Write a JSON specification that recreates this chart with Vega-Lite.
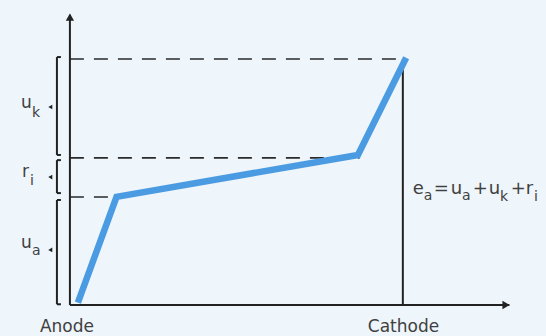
{
  "$schema": "https://vega.github.io/schema/vega-lite/v6.json",
  "width": 546,
  "height": 336,
  "padding": 0,
  "autosize": {"type": "fit", "contains": "padding"},
  "background": "#eef5fb",
  "config": {"view": {"stroke": null}},
  "encoding": {
    "x": {"field": "x", "type": "quantitative", "scale": {"domain": [-21, 143], "nice": false, "zero": false}, "axis": null},
    "y": {"field": "y", "type": "quantitative", "scale": {"domain": [-12.6, 124], "nice": false, "zero": false}, "axis": null}
  },
  "layer": [
    {
      "data": {"values": [
        {"x": 0, "x2": 100, "y": 100},
        {"x": 0, "x2": 87, "y": 59.8},
        {"x": 0, "x2": 13.5, "y": 43.9}
      ]},
      "mark": {"type": "rule", "color": "#2a2a2a", "strokeWidth": 1.6, "strokeDash": [14, 10]},
      "encoding": {"x2": {"field": "x2"}}
    },
    {
      "data": {"values": [
        {"x": 0, "x2": 0, "y": 0, "y2": 118},
        {"x": 0, "x2": 132, "y": 0, "y2": 0},
        {"x": 100, "x2": 100, "y": 0, "y2": 100},
        {"x": -3.9, "x2": -3.9, "y": 0.3, "y2": 42.7},
        {"x": -3.9, "x2": -3.9, "y": 45.5, "y2": 58.9},
        {"x": -3.9, "x2": -3.9, "y": 61, "y2": 100.8},
        {"x": -3.9, "x2": -2.7, "y": 0.3, "y2": 0.3},
        {"x": -3.9, "x2": -2.7, "y": 42.7, "y2": 42.7},
        {"x": -3.9, "x2": -2.7, "y": 45.5, "y2": 45.5},
        {"x": -3.9, "x2": -2.7, "y": 58.9, "y2": 58.9},
        {"x": -3.9, "x2": -2.7, "y": 61, "y2": 61},
        {"x": -3.9, "x2": -2.7, "y": 100.8, "y2": 100.8}
      ]},
      "mark": {"type": "rule", "color": "#222222", "strokeWidth": 2},
      "encoding": {"x2": {"field": "x2"}, "y2": {"field": "y2"}}
    },
    {
      "data": {"values": [
        {"x": 2.4, "y": 1},
        {"x": 14, "y": 44},
        {"x": 86.5, "y": 61},
        {"x": 101, "y": 100.5}
      ]},
      "mark": {"type": "line", "color": "#4a9be2", "strokeWidth": 6.5, "strokeCap": "butt", "strokeJoin": "miter"}
    },
    {
      "data": {"values": [{"x": 0, "y": 117}]},
      "mark": {"type": "point", "filled": true, "color": "#222222", "size": 70, "opacity": 1, "shape": "triangle-up"}
    },
    {
      "data": {"values": [{"x": 131, "y": 0}]},
      "mark": {"type": "point", "filled": true, "color": "#222222", "size": 70, "opacity": 1, "shape": "triangle-right"}
    },
    {
      "data": {"values": [{"x": -5.9, "y": 80.5}, {"x": -5.9, "y": 52}, {"x": -5.9, "y": 22.4}]},
      "mark": {"type": "point", "filled": true, "color": "#222222", "size": 22, "opacity": 1, "shape": "triangle-left"}
    },
    {
      "data": {"values": [
        {"x": -14.7, "y": 80.1, "t": "u"},
        {"x": -14.4, "y": 52.0, "t": "r"},
        {"x": -14.7, "y": 23.2, "t": "u"}
      ]},
      "mark": {"type": "text", "align": "left", "baseline": "alphabetic", "font": "DejaVu Sans", "fontSize": 17, "color": "#404040"},
      "encoding": {"text": {"field": "t"}}
    },
    {
      "data": {"values": [
        {"x": -11.4, "y": 76.4, "t": "k"},
        {"x": -12.0, "y": 48.8, "t": "i"},
        {"x": -11.4, "y": 20.3, "t": "a"}
      ]},
      "mark": {"type": "text", "align": "left", "baseline": "alphabetic", "font": "DejaVu Sans", "fontSize": 14, "color": "#404040"},
      "encoding": {"text": {"field": "t"}}
    },
    {
      "data": {"values": [
        {"x": 103.0, "y": 45.1, "t": "e"},
        {"x": 109.3, "y": 45.1, "t": "="},
        {"x": 114.4, "y": 45.1, "t": "u"},
        {"x": 121.0, "y": 45.1, "t": "+"},
        {"x": 125.8, "y": 45.1, "t": "u"},
        {"x": 132.4, "y": 45.1, "t": "+"},
        {"x": 136.9, "y": 45.1, "t": "r"}
      ]},
      "mark": {"type": "text", "align": "left", "baseline": "alphabetic", "font": "DejaVu Sans", "fontSize": 18, "color": "#404040"},
      "encoding": {"text": {"field": "t"}}
    },
    {
      "data": {"values": [
        {"x": 106.3, "y": 42.7, "t": "a"},
        {"x": 117.8, "y": 42.7, "t": "a"},
        {"x": 129.2, "y": 42.3, "t": "k"},
        {"x": 139.4, "y": 42.3, "t": "i"}
      ]},
      "mark": {"type": "text", "align": "left", "baseline": "alphabetic", "font": "DejaVu Sans", "fontSize": 14, "color": "#404040"},
      "encoding": {"text": {"field": "t"}}
    },
    {
      "data": {"values": [
        {"x": -0.9, "y": -11, "t": "Anode"},
        {"x": 100.2, "y": -11, "t": "Cathode"}
      ]},
      "mark": {"type": "text", "align": "center", "baseline": "alphabetic", "font": "DejaVu Sans", "fontSize": 17, "color": "#404040"},
      "encoding": {"text": {"field": "t"}}
    }
  ]
}
